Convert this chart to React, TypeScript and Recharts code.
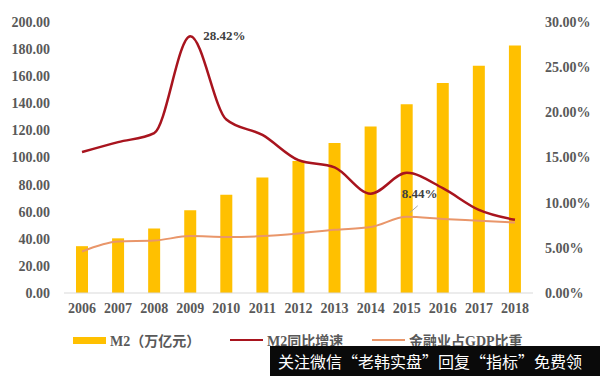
import React from 'react';
import {
  ComposedChart,
  Bar,
  Line,
  XAxis,
  YAxis,
  Legend,
  LabelList,
} from 'recharts';

const years = ['2006', '2007', '2008', '2009', '2010', '2011', '2012', '2013', '2014', '2015', '2016', '2017', '2018'];
const m2 = [34.56, 40.34, 47.52, 61.02, 72.58, 85.16, 97.42, 110.65, 122.84, 139.23, 155.01, 167.68, 182.67];
const m2Growth = [15.6, 16.7, 17.7, 28.42, 19.2, 17.5, 14.7, 13.9, 11.0, 13.3, 11.6, 9.2, 8.1];
const financeShare = [4.6, 5.7, 5.8, 6.3, 6.2, 6.3, 6.6, 7.0, 7.3, 8.44, 8.2, 8.0, 7.8];

const leftTicks = [0, 20, 40, 60, 80, 100, 120, 140, 160, 180, 200];
const rightTicks = [0, 5, 10, 15, 20, 25, 30];

const data = years.map((year, i) => ({
  year,
  m2: m2[i],
  growth: m2Growth[i],
  share: financeShare[i],
}));

const GOLD = '#FFC000';
const DARK_RED = '#A8141E';
const ORANGE = '#E9966A';
const TICK = '#595959';
const serif = '"Liberation Serif", "DejaVu Serif", serif';

const tickStyle = { fill: TICK, fontSize: 14, fontFamily: serif, fontWeight: 700 };

const growthLabel = (props: any) => {
  const { x, y, index, value } = props;
  if (index !== 3) return null;
  return (
    <text x={x + 13} y={y + 4} fill="#404040" fontSize={13} fontFamily={serif} fontWeight={700}>
      {`${value.toFixed(2)}%`}
    </text>
  );
};

const shareLabel = (props: any) => {
  const { x, y, index, value } = props;
  if (index !== 9) return null;
  return (
    <g>
      <line x1={x + 3} y1={y - 4} x2={x + 11} y2={y - 11} stroke="#A6A6A6" strokeWidth={1} />
      <text x={x - 5} y={y - 19} fill="#404040" fontSize={13} fontFamily={serif} fontWeight={700}>
        {`${value.toFixed(2)}%`}
      </text>
    </g>
  );
};

const legendItems = [
  { label: 'M2（万亿元）', color: GOLD, kind: 'bar', left: 73 },
  { label: 'M2同比增速', color: DARK_RED, kind: 'line', left: 230 },
  { label: '金融业占GDP比重', color: ORANGE, kind: 'line', left: 372 },
];

const renderLegend = () => (
  <div style={{ position: 'relative', height: 20, width: 600 }}>
    {legendItems.map((item) => (
      <div
        key={item.label}
        style={{
          position: 'absolute',
          left: item.left,
          top: 0,
          display: 'flex',
          alignItems: 'center',
          height: 20,
        }}
      >
        <span
          style={{
            display: 'inline-block',
            width: 33,
            height: item.kind === 'bar' ? 7 : 2,
            background: item.color,
            marginRight: 4,
          }}
        />
        <span
          style={{
            color: TICK,
            fontSize: 14,
            fontWeight: 700,
            fontFamily: '"Liberation Serif", "Noto Sans CJK SC", serif',
            whiteSpace: 'nowrap',
          }}
        >
          {item.label}
        </span>
      </div>
    ))}
  </div>
);

export default function App() {
  return (
    <div style={{ position: 'absolute', left: 0, top: 0, width: 600, height: 376, background: '#fff', overflow: 'hidden' }}>
      <ComposedChart width={600} height={376} data={data} margin={{ top: 22, right: 0, bottom: 33, left: 0 }}>
        <XAxis
          dataKey="year"
          axisLine={{ stroke: '#D9D9D9' }}
          tickLine={false}
          tick={tickStyle}
          tickMargin={4}
          height={30}
          interval={0}
        />
        <YAxis
          yAxisId="left"
          domain={[0, 200]}
          ticks={leftTicks}
          width={64}
          axisLine={false}
          tickLine={false}
          tickMargin={8}
          tick={tickStyle}
          tickFormatter={(v: number) => v.toFixed(2)}
        />
        <YAxis
          yAxisId="right"
          orientation="right"
          domain={[0, 30]}
          ticks={rightTicks}
          width={67}
          axisLine={false}
          tickLine={false}
          tickMargin={6}
          tick={tickStyle}
          tickFormatter={(v: number) => `${v.toFixed(2)}%`}
        />
        <Legend
          content={renderLegend}
          wrapperStyle={{ position: 'absolute', top: 330, left: 0, width: 600 }}
        />
        <Bar yAxisId="left" dataKey="m2" name="M2（万亿元）" fill={GOLD} barSize={12} isAnimationActive={false} />
        <Line
          yAxisId="right"
          type="monotone"
          dataKey="growth"
          name="M2同比增速"
          stroke={DARK_RED}
          strokeWidth={2.5}
          dot={false}
          isAnimationActive={false}
        >
          <LabelList dataKey="growth" content={growthLabel} />
        </Line>
        <Line
          yAxisId="right"
          type="monotone"
          dataKey="share"
          name="金融业占GDP比重"
          stroke={ORANGE}
          strokeWidth={2}
          dot={false}
          isAnimationActive={false}
        >
          <LabelList dataKey="share" content={shareLabel} />
        </Line>
      </ComposedChart>
      <div
        style={{
          position: 'absolute',
          left: 270,
          top: 346,
          width: 330,
          height: 30,
          background: '#0a0a0a',
          color: '#fff',
          fontFamily: '"Noto Sans CJK SC", sans-serif',
          fontSize: 16,
          display: 'flex',
          alignItems: 'center',
          paddingLeft: 8,
          boxSizing: 'border-box',
          whiteSpace: 'nowrap',
        }}
      >
        关注微信“老韩实盘”回复“指标”免费领
      </div>
    </div>
  );
}
